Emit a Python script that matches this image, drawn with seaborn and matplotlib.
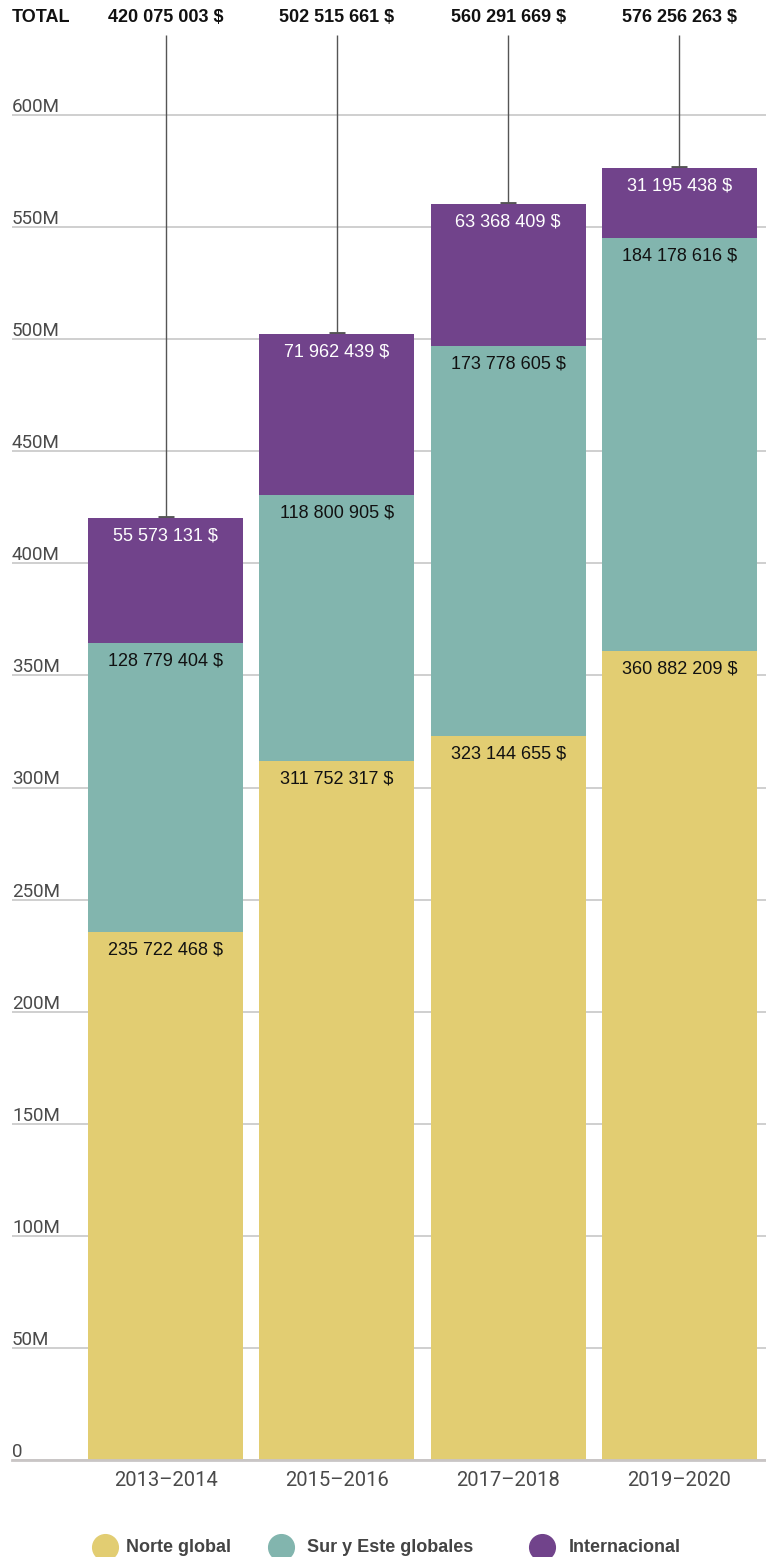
import matplotlib
matplotlib.use("Agg")
import matplotlib.pyplot as plt
import seaborn as sns
import pandas as pd
from matplotlib import font_manager, transforms
from matplotlib.lines import Line2D

# ---------------- data ----------------
periods = ["2013–2014", "2015–2016", "2017–2018", "2019–2020"]
norte_global = [235722468, 311752317, 323144655, 360882209]
sur_este = [128779404, 118800905, 173778605, 184178616]
internacional = [55573131, 71962439, 63368409, 31195438]
series_names = ["Norte global", "Sur y Este globales", "Internacional"]
y_ticks = [0, 50e6, 100e6, 150e6, 200e6, 250e6, 300e6, 350e6, 400e6, 450e6, 500e6, 550e6, 600e6]
y_tick_labels = ["0", "50M", "100M", "150M", "200M", "250M", "300M", "350M", "400M", "450M", "500M", "550M", "600M"]

colors = ["#E2CD72", "#82B5AE", "#71438B"]
label_colors = ["#111111", "#111111", "#FFFFFF"]

sns.set_theme(style="white")

names = {f.name for f in font_manager.fontManager.ttflist}
main_font = "Liberation Sans" if "Liberation Sans" in names else "DejaVu Sans"
tick_font = "Roboto" if "Roboto" in names else main_font
plt.rcParams["font.family"] = [main_font, "DejaVu Sans"]


def fmt(v):
    return f"{int(v):,}".replace(",", " ") + " $"


W, H = 766, 1557
fig = plt.figure(figsize=(W / 100, H / 100), dpi=100)
ax = fig.add_axes([12 / W, 97 / H, 754 / W, (1460 - 35) / H])

layers = [norte_global, sur_este, internacional]
bottoms = [0, 0, 0, 0]
tops_per_layer = []
for vals, col in zip(layers, colors):
    df = pd.DataFrame({"period": periods, "value": vals})
    sns.barplot(data=df, x="period", y="value", color=col, saturation=1,
                width=0.905, errorbar=None, bottom=list(bottoms), linewidth=0,
                ax=ax, zorder=2)
    bottoms = [b + v for b, v in zip(bottoms, vals)]
    tops_per_layer.append(list(bottoms))
totals = bottoms

y_top = (1460 - 35) * 600e6 / (1460 - 115)
ax.set_ylim(0, y_top)
ax.set_xlim(-(165.5 - 12) / 171.3, 3 + (766 - 679.5) / 171.3)

# grid / spines
ax.set_yticks(y_ticks)
ax.set_yticklabels(y_tick_labels)
ax.grid(axis="y", color="#cccccc", linewidth=1.3)
ax.grid(axis="x", visible=False)
ax.set_axisbelow(True)
for s in ["top", "left", "right"]:
    ax.spines[s].set_visible(False)
ax.spines["bottom"].set_color("#c9c5c5")
ax.spines["bottom"].set_linewidth(2)
ax.set_xlabel("")
ax.set_ylabel("")

ax.tick_params(axis="y", length=0, pad=0, labelsize=13.5, labelcolor="#4a4a4a")
offset = transforms.ScaledTranslation(0, 0.03, fig.dpi_scale_trans)
for lbl in ax.get_yticklabels():
    lbl.set_ha("left")
    lbl.set_va("baseline")
    lbl.set_fontfamily(tick_font)
    lbl.set_transform(lbl.get_transform() + offset)

ax.tick_params(axis="x", length=0, pad=8, labelsize=14.5, labelcolor="#4a4a4a")
for lbl in ax.get_xticklabels():
    lbl.set_fontfamily(tick_font)

# segment value labels
for vals, tops, lc in zip(layers, tops_per_layer, label_colors):
    for j, (v, t) in enumerate(zip(vals, tops)):
        ax.annotate(fmt(v), xy=(j, t), xytext=(0, -13), textcoords="offset points",
                    ha="center", va="center", fontsize=13, color=lc, zorder=5)

# leader lines and caps
xs = list(range(len(periods)))
ax.vlines(xs, totals, y_top, color="#555555", linewidth=1, zorder=1, clip_on=False)
ax.plot(xs, totals, linestyle="none", marker="_", markersize=11, markeredgewidth=3.5,
        color="#555555", zorder=1)

# totals row
trans = transforms.blended_transform_factory(ax.transData, fig.transFigure)
ty = 1 - 17 / H
for j, t in enumerate(totals):
    ax.text(j, ty, fmt(t), transform=trans, ha="center", va="center",
            fontsize=13, fontweight="bold", color="#111111")
fig.text(12 / W, ty, "TOTAL", ha="left", va="center", fontsize=13,
         fontweight="bold", color="#111111")

# legend
leg_y = 1 - 1547 / H
circle_x = [105, 281, 542]
text_x = [126, 307, 569]
for cx, tx, col, name in zip(circle_x, text_x, colors, series_names):
    fig.add_artist(Line2D([cx / W], [leg_y], marker="o", markersize=18.5, color=col,
                          linestyle="none", transform=fig.transFigure))
    fig.text(tx / W, leg_y, name, ha="left", va="center", fontsize=13,
             fontweight="bold", color="#444444")

fig.savefig("out.png", dpi=100)
